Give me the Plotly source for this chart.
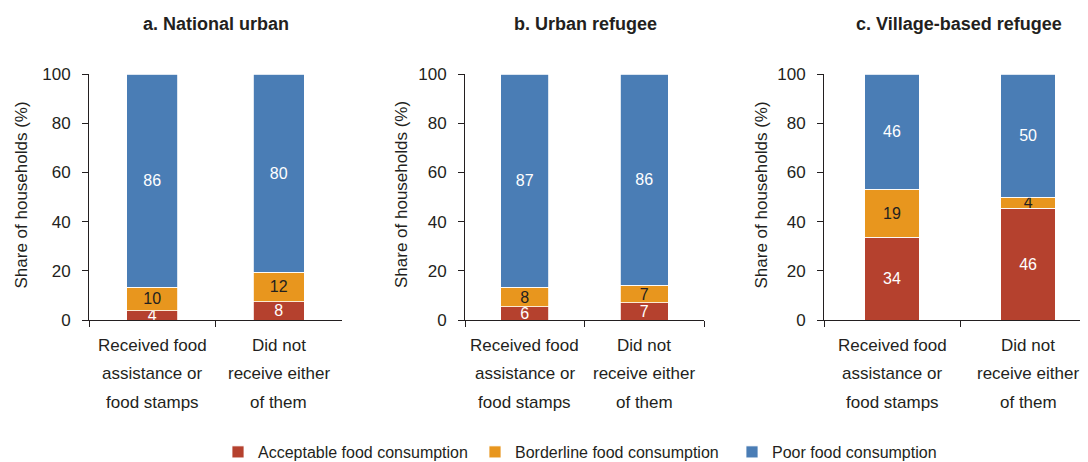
import plotly.graph_objects as go

# ---- data ----
panel_titles = ["a. National urban", "b. Urban refugee", "c. Village-based refugee"]
category_lines = [["Received food", "assistance or", "food stamps"],
                  ["Did not", "receive either", "of them"]]
categories = [" ".join(lines) for lines in category_lines]
series_names = ["Acceptable food consumption", "Borderline food consumption", "Poor food consumption"]

acceptable = [[3.8, 7.5], [5.4, 7.0], [33.7, 45.5]]
borderline = [[9.6, 12.0], [7.9, 7.1], [19.4, 4.4]]
poor = [[86.6, 80.5], [86.7, 85.9], [46.9, 50.1]]

acceptable_labels = [["4", "8"], ["6", "7"], ["34", "46"]]
borderline_labels = [["10", "12"], ["8", "7"], ["19", "4"]]
poor_labels = [["86", "80"], ["87", "86"], ["46", "50"]]

y_ticks = [0, 20, 40, 60, 80, 100]
y_title = "Share of households (%)"

# ---- styling ----
FONT = "Liberation Sans, Arial, sans-serif"
TXT = "#231f20"
colors = ["#B5412E", "#E8961E", "#4A7DB5"]
text_colors = ["white", TXT, "white"]

# page is offset by the 8px body margin
OX, OY = 8, 8
W, H = 1080, 454


def fx(px):
    return (px - OX) / W


def fy(py):
    return 1 - (py - OY) / H


x_domains = [(89, 342), (465, 704), (824, 1088)]
x_ranges = [[-0.5, 1.5], [-0.5, 1.5], [-0.5, 1.44]]
y_dom = [fy(320), fy(74)]

fig = go.Figure()
values = [acceptable, borderline, poor]
labels = [acceptable_labels, borderline_labels, poor_labels]

for p in range(3):
    xa = "x" if p == 0 else f"x{p+1}"
    ya = "y" if p == 0 else f"y{p+1}"
    for s in range(3):
        fig.add_trace(go.Bar(
            x=categories, y=values[s][p], name=series_names[s],
            text=labels[s][p], textposition="inside", insidetextanchor="middle",
            textangle=0, constraintext="none",
            textfont=dict(family=FONT, size=16, color=text_colors[s]),
            marker=dict(color=colors[s], line=dict(color="white", width=0.8)),
            width=0.4, xaxis=xa, yaxis=ya,
            showlegend=(p == 0), legendgroup=series_names[s],
            hoverinfo="skip",
        ))

layout = dict(
    barmode="stack",
    width=W, height=H,
    margin=dict(l=0, r=0, t=0, b=0, autoexpand=False),
    paper_bgcolor="white", plot_bgcolor="white",
    font=dict(family=FONT, size=17, color=TXT),
    legend=dict(orientation="h", x=fx(218), xanchor="left", y=fy(452), yanchor="middle",
                font=dict(family=FONT, size=16, color=TXT), traceorder="normal",
                entrywidth=212, entrywidthmode="pixels", bgcolor="rgba(0,0,0,0)"),
    annotations=[],
)

for p in range(3):
    sx = "" if p == 0 else str(p + 1)
    d0, d1 = x_domains[p]
    layout["xaxis" + sx] = dict(
        domain=[fx(d0), fx(d1)], anchor="y" + sx, range=x_ranges[p], type="category",
        showline=True, linecolor=TXT, linewidth=1, ticks="outside", tickson="boundaries",
        ticklen=6, tickcolor=TXT, showgrid=False, zeroline=False, showticklabels=False,
        automargin=False, fixedrange=True,
    )
    layout["yaxis" + sx] = dict(
        domain=y_dom, anchor="x" + sx, range=[0, 100], tickvals=y_ticks,
        showline=True, linecolor=TXT, linewidth=1, ticks="outside", ticklen=6, tickcolor=TXT,
        ticklabelstandoff=8,
        showgrid=False, zeroline=False, tickfont=dict(family=FONT, size=17, color=TXT),
        automargin=False, fixedrange=True,
    )

title_x = [216, 585, 959]
ytitle_x = [20.5, 401, 760.5]
line_y = [345, 373, 402]
for p in range(3):
    sx = "" if p == 0 else str(p + 1)
    layout["annotations"].append(dict(
        text="<b>" + panel_titles[p] + "</b>", x=fx(title_x[p]), y=fy(24),
        xref="paper", yref="paper", showarrow=False, xanchor="center", yanchor="middle",
        font=dict(family=FONT, size=18, color=TXT)))
    layout["annotations"].append(dict(
        text=y_title, x=fx(ytitle_x[p]), y=fy(195),
        xref="paper", yref="paper", showarrow=False, xanchor="center", yanchor="middle",
        textangle=-90, font=dict(family=FONT, size=17, color=TXT)))
    for c, lines in enumerate(category_lines):
        for k, line in enumerate(lines):
            layout["annotations"].append(dict(
                text=line, x=categories[c], y=fy(line_y[k]),
                xref="x" + sx, yref="paper", showarrow=False,
                xanchor="center", yanchor="middle",
                font=dict(family=FONT, size=17, color=TXT)))

fig.update_layout(**layout)
fig.write_html("out.html")
